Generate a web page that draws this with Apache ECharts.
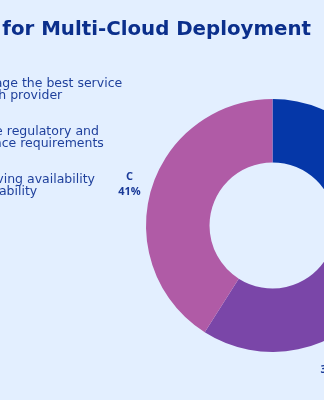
<!DOCTYPE html>
<html>
<head>
<meta charset="utf-8">
<script src="https://cdn.jsdelivr.net/npm/echarts@6/dist/echarts.min.js"></script>
<style>
html,body{margin:0;padding:0;background:#e3efff;}
#chart{width:324px;height:400px;}
</style>
</head>
<body>
<div id="chart"></div>
<script>
var titleText = 'Top Reasons for Multi-Cloud Deployment';
var categories = ['A', 'B', 'C'];
var reasons = [
  'Leverage the best service\nof each provider',
  'Ensure regulatory and\ncompliance requirements',
  'Improving availability\nand stability'
];
var values = [28, 31, 41];
var colors = ['#0537a8', '#7a46a8', '#b05ba6'];

var pieData = categories.map(function (c, i) {
  return { name: c, value: values[i], itemStyle: { color: colors[i] } };
});

var legendFont = { fontFamily: 'DejaVu Sans', fontSize: 12.5, lineHeight: 12, color: '#1f409c' };

var chart = echarts.init(document.getElementById('chart'), null, { renderer: 'canvas' });
chart.setOption({
  backgroundColor: '#e3efff',
  animation: false,
  title: {
    text: titleText,
    right: 13,
    top: 20,
    padding: 0,
    textStyle: { fontFamily: 'DejaVu Sans', fontWeight: 'bold', fontSize: 19.8, color: '#0b2f8c' }
  },
  legend: {
    orient: 'vertical',
    left: -79.5,
    top: 72,
    itemWidth: 14,
    itemHeight: 14,
    itemGap: 23,
    icon: 'circle',
    data: categories,
    formatter: function (name) {
      var idx = categories.indexOf(name);
      return reasons[idx].split('\n').map(function (line, j) {
        return (idx === 1 && j === 1 ? '{m|' : '{n|') + line + '}';
      }).join('\n');
    },
    textStyle: Object.assign({}, legendFont, {
      rich: {
        n: Object.assign({ padding: [0, 0, 0, 15.5] }, legendFont),
        m: Object.assign({}, legendFont)
      }
    })
  },
  series: [
    {
      type: 'pie',
      center: [272.5, 225.5],
      radius: [63, 126.5],
      startAngle: 90,
      clockwise: true,
      label: { show: false },
      labelLine: { show: false },
      data: pieData
    },
    {
      type: 'pie',
      center: [272.5, 225.5],
      radius: [136, 156],
      startAngle: 90,
      clockwise: true,
      silent: true,
      legendHoverLink: false,
      itemStyle: { color: 'rgba(0,0,0,0)' },
      label: {
        show: true,
        position: 'inside',
        formatter: '{b}\n{d}%',
        fontFamily: 'Open Sans',
        fontWeight: 'bold',
        fontSize: 11,
        lineHeight: 15,
        color: '#1a3a98'
      },
      labelLine: { show: false },
      data: categories.map(function (c, i) {
        return { name: c, value: values[i], itemStyle: { color: 'rgba(0,0,0,0)' } };
      })
    }
  ]
});
</script>
</body>
</html>
